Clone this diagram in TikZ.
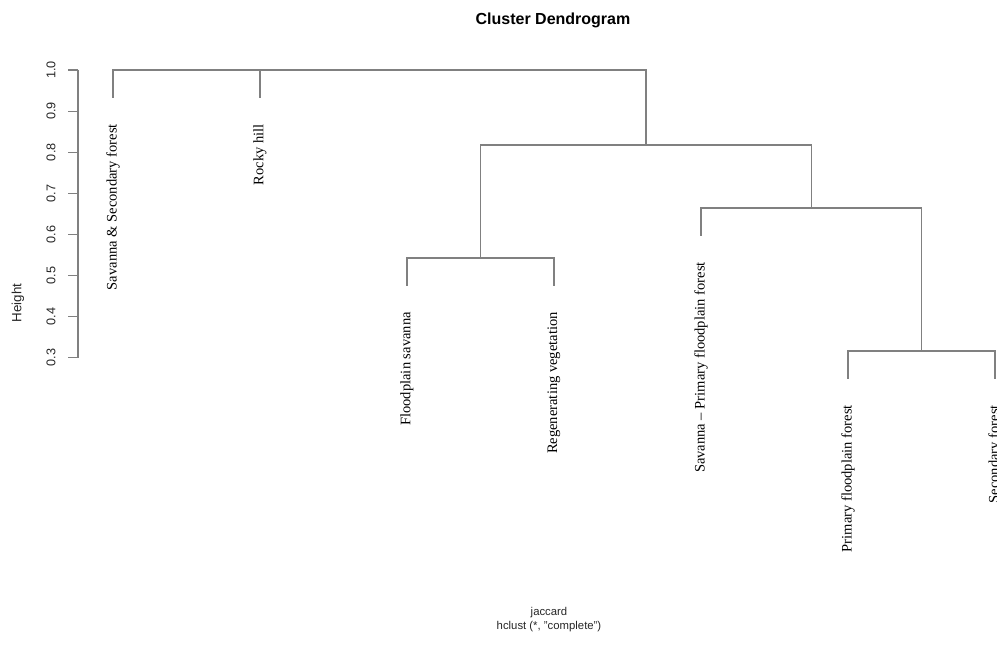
\documentclass[tikz,border=0pt]{standalone}
\usepackage{fontspec}
\setmainfont{Liberation Serif}
\setsansfont{Liberation Sans}
\begin{document}
\begin{tikzpicture}[x=0.75pt, y=-0.75pt,
    branch/.style={draw=gray, line width=1.1pt},
    leaflabel/.style={rotate=90, anchor=east, inner sep=0pt, font=\fontsize{10.9}{12}\selectfont},
    ticklabel/.style={rotate=90, inner sep=0pt, font=\sffamily\fontsize{9.5}{10}\selectfont, text=black!85},
    caption/.style={font=\sffamily\fontsize{8.5}{10}\selectfont, text=black!85}]
    \useasboundingbox (0,0) rectangle (997,645);
    % title
    \node[font=\sffamily\bfseries\fontsize{12}{14}\selectfont] (title) at (553,20) {Cluster Dendrogram};
    % axis (height 1.0 at y=70, 0.1 = 41.1px)
    \draw[gray, line width=0.8pt] (78,70) -- (78,357.7);
    \foreach \h [count=\i from 0] in {1.0,0.9,0.8,0.7,0.6,0.5,0.4,0.3} {
        \draw[gray, line width=0.8pt] (78,70+41.1*\i) -- (68,70+41.1*\i);
        \node[ticklabel] (tick\i) at (51,70+41.1*\i) {\h};
    }
    \node[ticklabel, font=\sffamily\fontsize{10}{11}\selectfont] (ylab) at (18,303) {Height};
    % leaf ends
    \coordinate (l1) at (113,98);
    \coordinate (l2) at (260,98);
    \coordinate (l3) at (407,286);
    \coordinate (l4) at (554,286);
    \coordinate (l5) at (701,236);
    \coordinate (l6) at (848,379);
    \coordinate (l7) at (995,379);
    % merges
    \coordinate (mA) at (921.5,351);
    \coordinate (mB) at (480.5,258);
    \coordinate (mC) at (811.3,208);
    \coordinate (mD) at (645.9,145);
    \coordinate (top) at (416,70);
    % branches
    \draw[branch] (l6) |- (mA) -| (l7);
    \draw[branch] (l3) |- (mB) -| (l4);
    \draw[branch] (l5) |- (mC) -| (mA);
    \draw[branch] (mB) |- (mD) -| (mC);
    \draw[branch] (l1) |- (top) -| (mD);
    \draw[branch] (l2) -- (l2 |- top);
    % leaf labels
    \node[leaflabel] (lab1) at ([yshift=-26*0.75pt]l1) {Savanna \& Secondary forest};
    \node[leaflabel] (lab2) at ([yshift=-26*0.75pt]l2) {Rocky hill};
    \node[leaflabel] (lab3) at ([yshift=-26*0.75pt]l3) {Floodplain savanna};
    \node[leaflabel] (lab4) at ([yshift=-26*0.75pt]l4) {Regenerating vegetation};
    \node[leaflabel] (lab5) at ([yshift=-26*0.75pt]l5) {Savanna -- Primary floodplain forest};
    \node[leaflabel] (lab6) at ([yshift=-26*0.75pt]l6) {Primary floodplain forest};
    \node[leaflabel] (lab7) at ([yshift=-26*0.75pt]l7) {Secondary forest};
    % method
    \node[caption] (dist) at (549,613) {jaccard};
    \node[caption] (meth) at (549,627) {hclust (*, "complete")};
\end{tikzpicture}
\end{document}
